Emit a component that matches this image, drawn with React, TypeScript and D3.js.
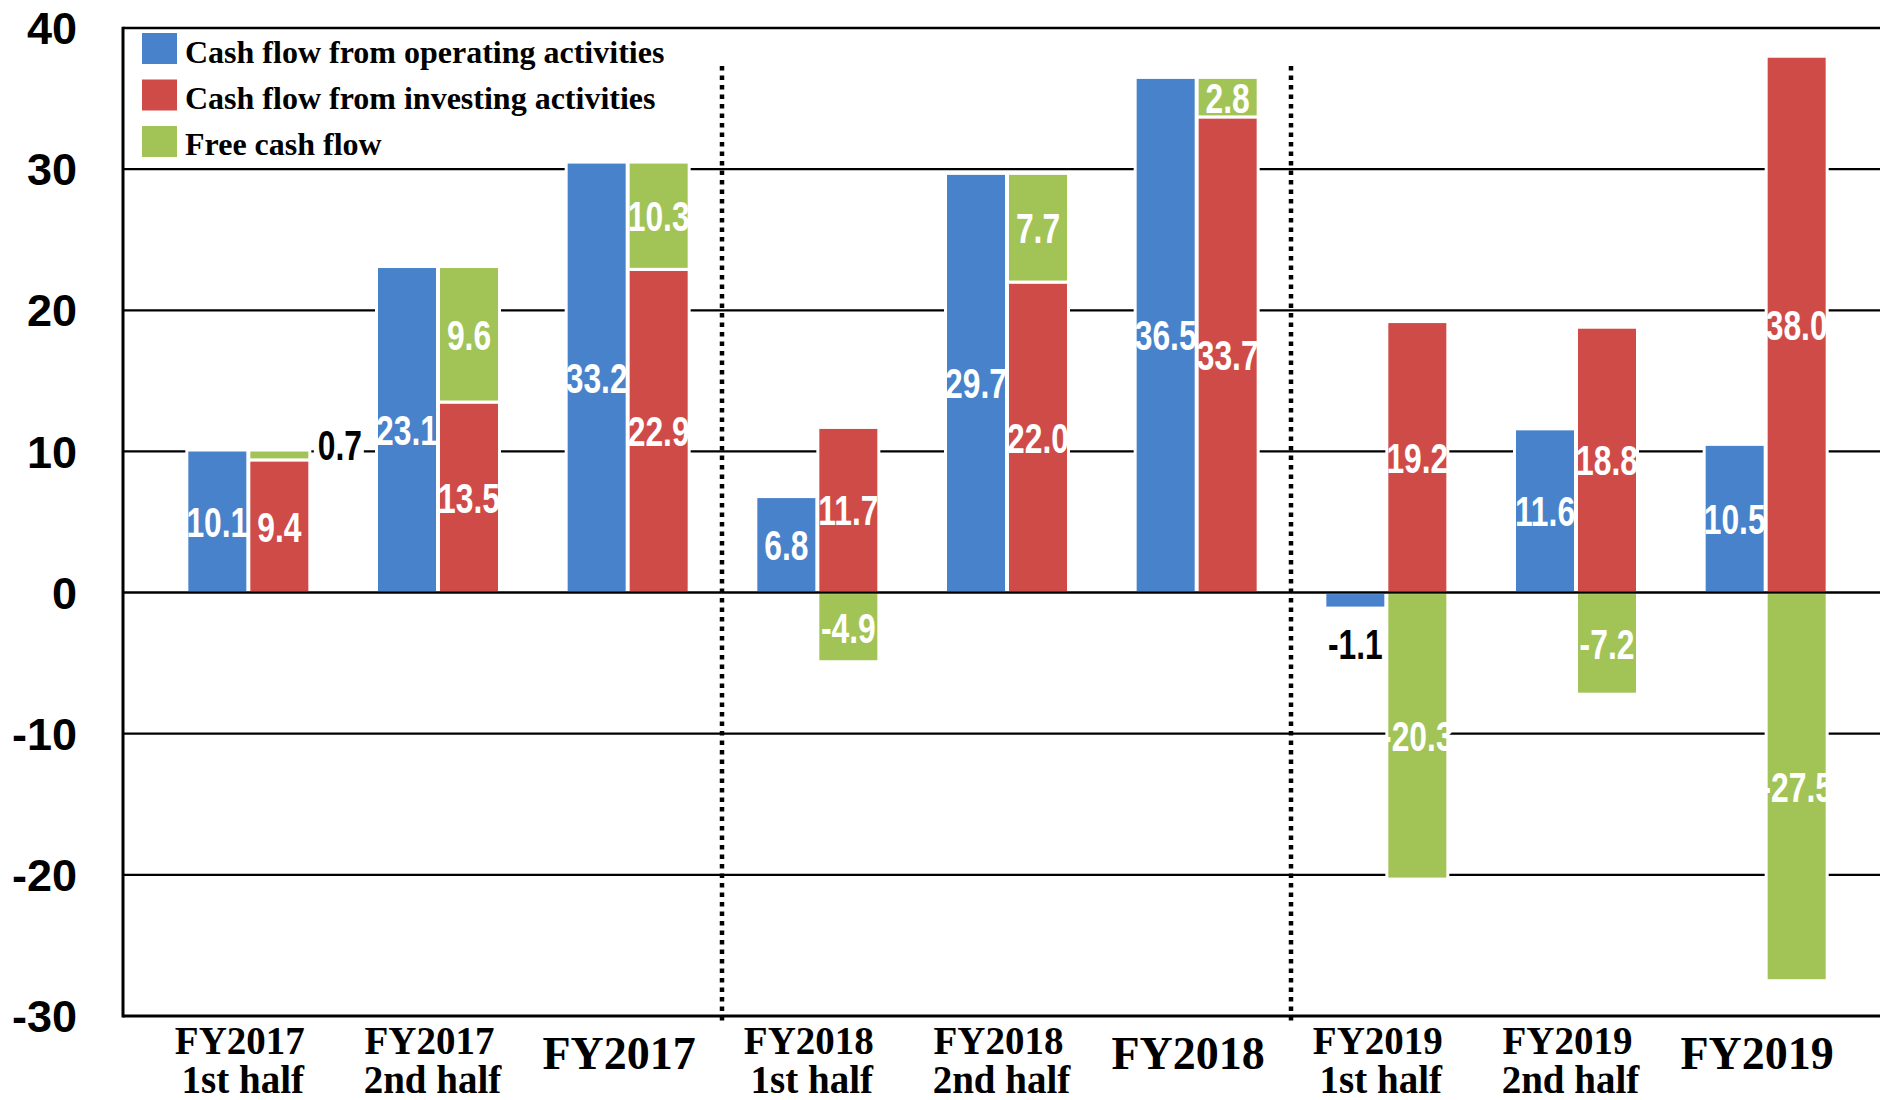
import React from "react";
import * as d3 from "d3";

const catTop = ["FY2017", "FY2017", "FY2017", "FY2018", "FY2018", "FY2018", "FY2019", "FY2019", "FY2019"];
const catBottom = ["1st half", "2nd half", "", "1st half", "2nd half", "", "1st half", "2nd half", ""];
const operating = [10.1, 23.1, 30.5, 6.8, 29.7, 36.5, -1.1, 11.6, 10.5];
const investing = [9.4, 13.5, 22.9, 11.7, 22.0, 33.7, 19.2, 18.8, 38.0];
const freeCash = [0.7, 9.6, 7.6, -4.9, 7.7, 2.8, -20.3, -7.2, -27.5];
const operatingLabels = ["10.1", "23.1", "33.2", "6.8", "29.7", "36.5", "-1.1", "11.6", "10.5"];
const investingLabels = ["9.4", "13.5", "22.9", "11.7", "22.0", "33.7", "19.2", "18.8", "38.0"];
const freeCashLabels = ["0.7", "9.6", "10.3", "-4.9", "7.7", "2.8", "-20.3", "-7.2", "-27.5"];
const yTicks = [-30, -20, -10, 0, 10, 20, 30, 40];
const legendItems = [
  "Cash flow from operating activities",
  "Cash flow from investing activities",
  "Free cash flow",
];
const colors = ["#4882CA", "#CF4B48", "#A2C456"];
const dividerBefore = [3, 6];

const W = 1880;
const H = 1100;
const AXIS_X = 123;

const SANS = "'Liberation Sans', Arial, Helvetica, sans-serif";
const SERIF = "'Liberation Serif', 'Times New Roman', Times, serif";

export default function App() {
  const y = d3.scaleLinear().domain([-30, 40]).range([1016, 28]);
  const x = d3.scaleBand<number>().domain(d3.range(catTop.length)).range([153, 1860]).padding(0);
  const sub = d3.scaleBand<string>().domain(["op", "inv"]).range([-61, 62]).paddingInner(0.016);
  const bw = sub.bandwidth();
  const cx = (i: number) => (x(i) as number) + x.bandwidth() / 2;

  type Seg = { x0: number; v0: number; v1: number; color: string; label: string };
  const segs: Seg[] = [];
  catTop.forEach((_, i) => {
    const c = cx(i);
    segs.push({ x0: c + (sub("op") as number), v0: 0, v1: operating[i], color: colors[0], label: operatingLabels[i] });
    segs.push({ x0: c + (sub("inv") as number), v0: 0, v1: investing[i], color: colors[1], label: investingLabels[i] });
    const f = freeCash[i];
    if (f >= 0) {
      segs.push({ x0: c + (sub("inv") as number), v0: investing[i], v1: investing[i] + f, color: colors[2], label: freeCashLabels[i] });
    } else {
      segs.push({ x0: c + (sub("inv") as number), v0: 0, v1: f, color: colors[2], label: freeCashLabels[i] });
    }
  });

  const valueText = (key: string, tx: number, ty: number, label: string, fill: string, anchor: string) => (
    <text
      key={key}
      transform={`translate(${tx},${ty}) scale(0.74,1)`}
      textAnchor={anchor}
      dy="0.36em"
      fontFamily={SANS}
      fontWeight="bold"
      fontSize={43}
      fill={fill}
    >
      {label}
    </text>
  );

  return (
    <svg
      width={W}
      height={H}
      viewBox={`0 0 ${W} ${H}`}
      style={{ position: "absolute", left: 0, top: 0, background: "#fff", display: "block" }}
    >
      <rect x={0} y={0} width={W} height={H} fill="#fff" />
      {/* gridlines behind bars */}
      {yTicks
        .filter((t) => t !== 0 && t !== -30)
        .map((t) => (
          <line key={"g" + t} x1={AXIS_X} x2={W} y1={y(t)} y2={y(t)} stroke="#000" strokeWidth={t === 40 ? 2.6 : 2.2} />
        ))}
      {/* dotted dividers */}
      {dividerBefore.map((i) => (
        <line
          key={"d" + i}
          x1={x(i) as number}
          x2={x(i) as number}
          y1={66}
          y2={1024}
          stroke="#000"
          strokeWidth={4.5}
          strokeDasharray="4.5 5"
        />
      ))}
      {/* bars */}
      {segs.map((s, k) => {
        const ya = y(s.v0);
        const yb = y(s.v1);
        return (
          <rect
            key={"b" + k}
            x={s.x0}
            y={Math.min(ya, yb)}
            width={bw}
            height={Math.abs(yb - ya)}
            fill={s.color}
            stroke="#fff"
            strokeWidth={3}
          />
        );
      })}
      {/* zero line and frame */}
      <line x1={AXIS_X} x2={W} y1={y(0)} y2={y(0)} stroke="#000" strokeWidth={2.4} />
      <line x1={AXIS_X} x2={W} y1={y(-30)} y2={y(-30)} stroke="#000" strokeWidth={3} />
      <line x1={AXIS_X} x2={AXIS_X} y1={y(40) - 1.3} y2={y(-30) + 1.5} stroke="#000" strokeWidth={3} />
      {/* value labels */}
      {segs.map((s, k) => {
        const ya = y(s.v0);
        const yb = y(s.v1);
        const h = Math.abs(yb - ya);
        const mid = (ya + yb) / 2;
        const xc = s.x0 + bw / 2;
        if (h < 20) {
          if (s.v1 < s.v0) {
            const ty = Math.max(ya, yb) + 35;
            return (
              <g key={"l" + k}>
                <rect x={xc - 26} y={ty - 20} width={52} height={40} fill="#fff" />
                {valueText("t" + k, xc, ty, s.label, "#000", "middle")}
              </g>
            );
          }
          const tx = s.x0 + bw + 8;
          const ty = mid - 10;
          return (
            <g key={"l" + k}>
              <rect x={tx - 4} y={ty - 20} width={50} height={40} fill="#fff" />
              {valueText("t" + k, tx, ty, s.label, "#000", "start")}
            </g>
          );
        }
        return valueText("l" + k, xc, mid, s.label, "#fff", "middle");
      })}
      {/* y tick labels */}
      {yTicks.map((t) => (
        <text
          key={"t" + t}
          x={77}
          y={y(t)}
          dy="0.36em"
          textAnchor="end"
          fontFamily={SANS}
          fontWeight="bold"
          fontSize={45}
          fill="#000"
        >
          {t}
        </text>
      ))}
      {/* category labels */}
      {catTop.map((c, i) => {
        const xc = cx(i) - 8;
        if (catBottom[i]) {
          return (
            <g key={"c" + i}>
              <text x={xc} y={1054} textAnchor="middle" fontFamily={SERIF} fontWeight="bold" fontSize={39} fill="#000">
                {c}
              </text>
              <text x={xc + 3} y={1093} textAnchor="middle" fontFamily={SERIF} fontWeight="bold" fontSize={39} fill="#000">
                {catBottom[i]}
              </text>
            </g>
          );
        }
        return (
          <text key={"c" + i} x={xc} y={1069} textAnchor="middle" fontFamily={SERIF} fontWeight="bold" fontSize={46} fill="#000">
            {c}
          </text>
        );
      })}
      {/* legend */}
      {legendItems.map((name, i) => (
        <g key={"lg" + i}>
          <rect x={142} y={33 + i * 46.5} width={35} height={31} fill={colors[i]} />
          <text x={185} y={63 + i * 46} fontFamily={SERIF} fontWeight="bold" fontSize={32} fill="#000">
            {name}
          </text>
        </g>
      ))}
    </svg>
  );
}
